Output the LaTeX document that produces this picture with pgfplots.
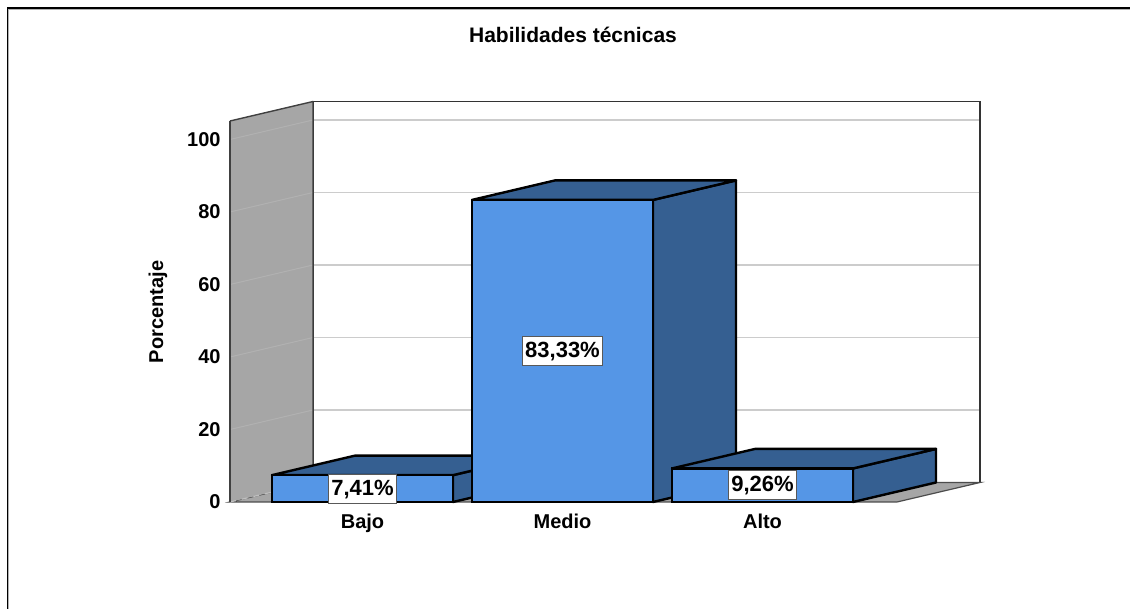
\documentclass[border=0pt]{standalone}
\usepackage{fontspec}
\setmainfont{Liberation Sans}
\usepackage{pgfplots}
\pgfplotsset{compat=1.18}
\usepackage{pgfplotstable}
\definecolor{barfront}{HTML}{5596E6}
\definecolor{barside}{HTML}{355F91}
\definecolor{wallgrey}{HTML}{A6A6A6}
\definecolor{gridgrey}{HTML}{CCCCCC}

\pgfplotstableread{
x y
0 7.41
1 83.33
2 9.26
}\datatab

\begin{document}
\begin{tikzpicture}
\useasboundingbox (-115pt,-53.5pt) rectangle (450pt,251pt);
\fill[white] (-115pt,-53.5pt) rectangle (450pt,251pt);
\draw[line width=0.8pt] (-111.25pt,-53.5pt) -- (-111.25pt,247pt) -- (450pt,247pt);
\draw[gray!60, line width=0.5pt] (-110.5pt,-53.5pt) -- (-110.5pt,246.3pt) -- (450pt,246.3pt);
\node[font=\fontsize{10.5}{12}\selectfont\bfseries] at (171.5pt,233.5pt) {Habilidades técnicas};
\node[rotate=90,font=\fontsize{10}{12}\selectfont\bfseries] at (-36pt,95pt) {Porcentaje};
\begin{axis}[
 at={(0,0)}, anchor=south west,
 x=100pt, y=1.8125pt,
 xmin=-0.6625, xmax=3.0875, ymin=0, ymax=110.48,
 clip=false,
 axis line style={draw=none},
 tick style={draw=none},
 major tick length=0pt,
 xtick={0,1,2}, xticklabels={Bajo,Medio,Alto},
 ytick={0,20,...,100},
 ticklabel style={font=\fontsize{10}{12}\selectfont\bfseries},
 /pgf/number format/assume math mode=true,
 xticklabel style={text height=7.3pt, yshift=-2.4pt},
 yticklabel style={xshift=-1.2pt},
]
% back wall
\fill[white] (axis cs:-0.2475,5.38) rectangle (axis cs:3.0875,110.48);
\pgfplotsinvokeforeach{20,40,60,80,100}{
  \draw[gridgrey, line width=0.6pt] (axis cs:-0.2475,{#1+5.38}) -- (axis cs:3.0875,{#1+5.38});
}
\draw[black!80, line width=0.7pt] (axis cs:-0.2475,5.38) rectangle (axis cs:3.0875,110.48);
% floor
\filldraw[fill=wallgrey, draw=black!70, line width=0.6pt] (axis cs:-0.6625,0) -- (axis cs:2.6725,0) -- (axis cs:3.0875,5.38) -- (axis cs:-0.2475,5.38) -- cycle;
% left wall
\fill[wallgrey] (axis cs:-0.6625,0) -- (axis cs:-0.6625,105.1) -- (axis cs:-0.2475,110.48) -- (axis cs:-0.2475,5.38) -- cycle;
\pgfplotsinvokeforeach{20,40,60,80,100}{
  \draw[black!25!wallgrey!60!white, line width=0.5pt] (axis cs:-0.6625,#1) -- (axis cs:-0.2475,{#1+5.38});
}
\draw[gray!50!white, dashed, line width=0.6pt] (axis cs:-0.6625,0) -- (axis cs:-0.2475,5.38);
\draw[black!75, line width=0.7pt, line join=round] (axis cs:-0.2475,5.38) -- (axis cs:-0.2475,110.48) -- (axis cs:-0.6625,105.1);
\draw[black!75, line width=1pt] (axis cs:-0.6625,105.1) -- (axis cs:-0.6625,0);
% bar sides and tops
\addplot[fill=barside, draw=black, line width=1.2pt, line join=round] coordinates {(0.4525,0) (0.8675,5.38) (0.8675,12.79) (0.4525,7.41)} -- cycle;
\addplot[fill=barside, draw=black, line width=1.2pt, line join=round] coordinates {(-0.4525,7.41) (0.4525,7.41) (0.8675,12.79) (-0.0375,12.79)} -- cycle;
\addplot[fill=barside, draw=black, line width=1.2pt, line join=round] coordinates {(1.4525,0) (1.8675,5.38) (1.8675,88.71) (1.4525,83.33)} -- cycle;
\addplot[fill=barside, draw=black, line width=1.2pt, line join=round] coordinates {(0.5475,83.33) (1.4525,83.33) (1.8675,88.71) (0.9625,88.71)} -- cycle;
\addplot[fill=barside, draw=black, line width=1.2pt, line join=round] coordinates {(2.4525,0) (2.8675,5.38) (2.8675,14.64) (2.4525,9.26)} -- cycle;
\addplot[fill=barside, draw=black, line width=1.2pt, line join=round] coordinates {(1.5475,9.26) (2.4525,9.26) (2.8675,14.64) (1.9625,14.64)} -- cycle;
% bar fronts
\addplot[ybar, bar width=0.905, bar shift=0pt, fill=barfront, draw=black, line width=1.2pt] table[x=x,y=y]{\datatab};
% labels
\addplot[draw=none, point meta=explicit,
  nodes near coords={\pgfmathprintnumber{\pgfplotspointmeta}\%},
  nodes near coords align=center,
  every node near coord/.append style={anchor=center, fill=white, draw=black!65, line width=0.5pt,
    font=\fontsize{11}{13}\selectfont\bfseries, inner xsep=1.5pt, inner ysep=2.5pt,
    text height=8pt, text depth=1.5pt,
    /pgf/number format/fixed, /pgf/number format/fixed zerofill,
    /pgf/number format/precision=2, /pgf/number format/use comma,
    /pgf/number format/assume math mode=true}
] table[x=x, y expr=\thisrow{y}/2, meta=y]{\datatab};
\end{axis}
\end{tikzpicture}
\end{document}
